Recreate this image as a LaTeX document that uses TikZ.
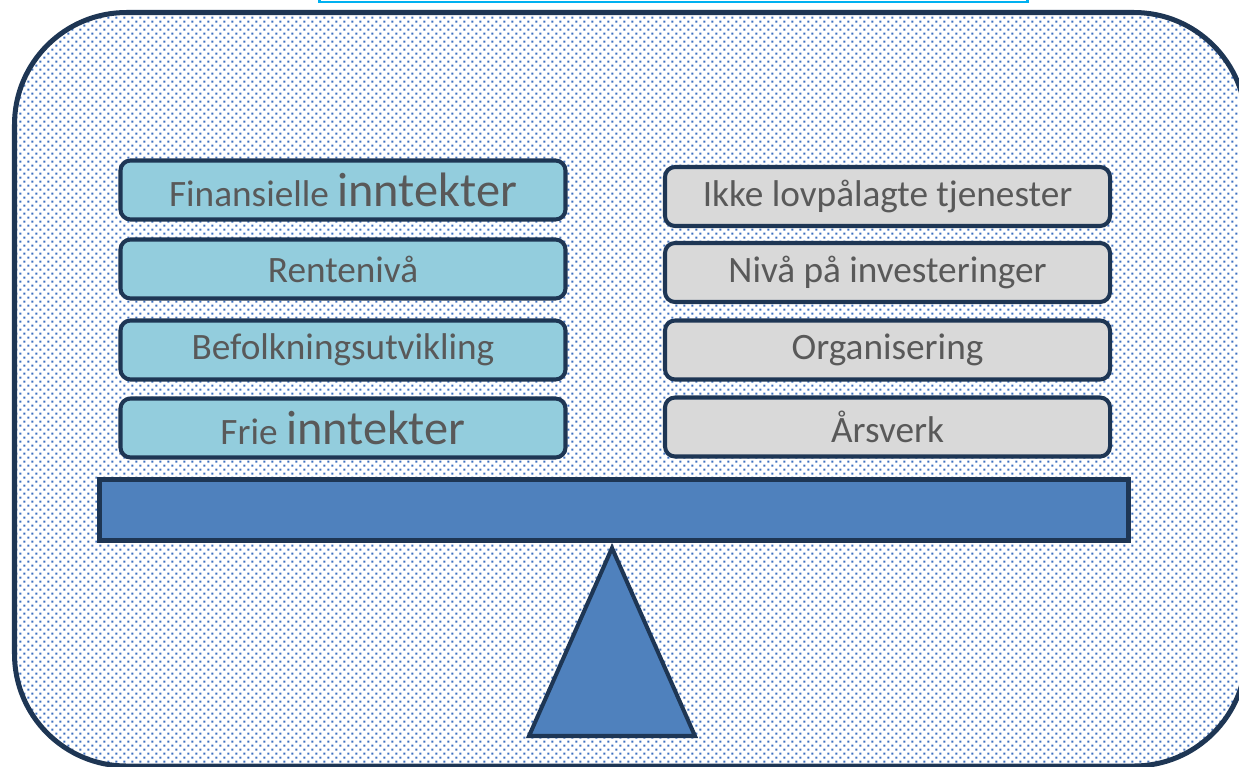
\documentclass[tikz,border=0pt]{standalone}
\usepackage{fontspec}
\setmainfont{Carlito}
\usetikzlibrary{patterns}

\definecolor{navy}{RGB}{30,54,84}
\definecolor{incomefill}{RGB}{147,205,221}
\definecolor{costfill}{RGB}{217,217,217}
\definecolor{beamblue}{RGB}{79,129,189}
\definecolor{dotblue}{RGB}{62,112,192}
\definecolor{textgray}{RGB}{89,89,89}
\definecolor{framecyan}{RGB}{0,176,240}

\pgfdeclarepatternformonly{scaledots}{\pgfqpoint{0pt}{0pt}}{\pgfqpoint{4.55pt}{4.55pt}}{\pgfqpoint{4.55pt}{4.55pt}}{%
  \pgfpathrectangle{\pgfqpoint{0.2pt}{0.2pt}}{\pgfqpoint{1.15pt}{1.15pt}}%
  \pgfpathrectangle{\pgfqpoint{2.48pt}{2.48pt}}{\pgfqpoint{1.15pt}{1.15pt}}%
  \pgfusepath{fill}}

\tikzset{
  factor/.style={draw=navy, line width=2.3pt, rounded corners=0.2cm, minimum width=8.9cm,
    minimum height=1.18cm, text=textgray, font=\fontsize{21.2}{25}\selectfont},
  incomebox/.style={factor, fill=incomefill},
  costbox/.style={factor, fill=costfill}
}
\newcommand{\bigword}[1]{{\fontsize{27.5}{32}\selectfont #1}}

\begin{document}
\begin{tikzpicture}
    \useasboundingbox (0,0) rectangle (24.78,-15.32);

    % Frame
    \draw[framecyan, line width=1.4pt, fill=white] (6.39,0.4) rectangle (20.55,-0.04);
    \draw[navy, line width=2.85pt, rounded corners=2.24cm, pattern=scaledots, pattern color=dotblue]
        (0.29,-0.25) rectangle (24.92,-15.32);

    % Boxes
    \node[incomebox] (finans) at (6.86,-3.80) {Finansielle \bigword{inntekter}};
    \node[incomebox] (rente) at (6.86,-5.38) {Renteniv\aa};
    \node[incomebox] (befolk) at (6.86,-7.00) {Befolkningsutvikling};
    \node[incomebox] (frie) at (6.86,-8.56) {Frie \bigword{inntekter}};

    \node[costbox] (tjenester) at (17.75,-3.93) {Ikke lovpålagte tjenester};
    \node[costbox] (invest) at (17.75,-5.45) {Nivå på investeringer};
    \node[costbox] (organ) at (17.75,-7.00) {Organisering};
    \node[costbox] (aarsverk) at (17.75,-8.54) {Årsverk};

    % Scale
    \coordinate (apex) at (12.24,-10.96);
    \coordinate (baseleft) at (10.58,-14.72);
    \coordinate (baseright) at (13.90,-14.72);
    \draw[navy, line width=2.3pt, fill=beamblue] (apex) -- (baseleft) -- (baseright) -- cycle;
    \node[draw=navy, line width=2.85pt, fill=beamblue, minimum width=20.58cm, minimum height=1.22cm]
        (beam) at (12.28,-10.20) {};
\end{tikzpicture}
\end{document}
